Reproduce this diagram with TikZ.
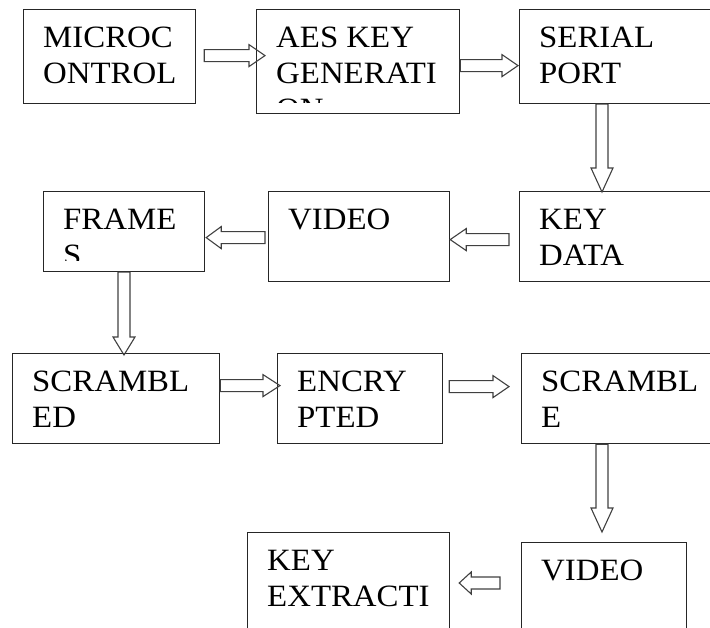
\documentclass[tikz,border=0pt]{standalone}
\usepackage{fontspec}
\setmainfont{Liberation Serif}[FakeStretch=1.06]
\usepackage{tikz}
\usetikzlibrary{calc, positioning}

\tikzset{
  stage/.style={draw=black!85, line width=1.2pt, anchor=north west, inner sep=0pt},
  stagetext/.style={anchor=north west, inner sep=0pt, align=left, text=black,
    font=\fontsize{31}{36}\selectfont},
  hollow/.style={draw=black!75, line width=1.1pt, line join=miter},
}

% hollow block arrow: [head length]{from}{to}
\newcommand{\blockarrow}[3][16pt]{%
  \coordinate (hb) at ($(#3)!#1!(#2)$);
  \draw[hollow] ($(#2)!6pt!90:(#3)$) -- ($(hb)!6pt!90:(#3)$) -- ($(hb)!11pt!90:(#3)$)
    -- (#3) -- ($(hb)!11pt!-90:(#3)$) -- ($(hb)!6pt!-90:(#3)$) -- ($(#2)!6pt!-90:(#3)$) -- cycle;}

% text inside a box, cut off near the bottom edge
\newcommand{\boxtext}[2]{%
  \begin{scope}
    \clip (#1.north west) rectangle ([shift={(0,-12)}]#1.south east);
    \node[stagetext] (#1-t) at ([shift={(20,18)}]#1.north west) {#2};
  \end{scope}}

\begin{document}
\begin{tikzpicture}[x=1pt, y=-1pt]
\useasboundingbox (0,0) rectangle (710,628);
\clip (0,0) rectangle (710,628);

% first row
\node[stage, minimum width=172pt, minimum height=94pt] (micro) at (23,9) {};
\node[stage, minimum width=203pt, minimum height=104pt] (aes) at (256,9) {};
\node[stage, minimum width=211pt, minimum height=94pt] (serial) at (519,9) {};

% second row
\node[stage, minimum width=211pt, minimum height=90pt] (keydata) at (519,191) {};
\node[stage, minimum width=181pt, minimum height=90pt] (video) at (268,191) {};
\node[stage, minimum width=161pt, minimum height=80pt] (frames) at (43,191) {};

% third row
\node[stage, minimum width=207pt, minimum height=90pt] (scrambled) at (12,353) {};
\node[stage, minimum width=165pt, minimum height=90pt] (encrypted) at (277,353) {};
\node[stage, minimum width=209pt, minimum height=90pt] (scramble) at (521,353) {};

% last row
\node[stage, minimum width=165pt, minimum height=118pt] (outvideo) at (521,542) {};
\node[stage, minimum width=202pt, minimum height=128pt] (keyext) at (247,532) {};

\boxtext{micro}{MICROC\\ONTROL}
\boxtext{aes}{AES KEY\\GENERATI\\ON}
\boxtext{serial}{SERIAL\\PORT}
\boxtext{keydata}{KEY\\DATA}
\boxtext{video}{VIDEO}
\boxtext{frames}{FRAME\\S}
\boxtext{scrambled}{SCRAMBL\\ED}
\boxtext{encrypted}{ENCRY\\PTED}
\boxtext{scramble}{SCRAMBL\\E}
\boxtext{outvideo}{VIDEO}
\boxtext{keyext}{KEY\\EXTRACTI}

% arrow ends
\coordinate (a1s) at ([shift={(8,-1)}]micro.east);
\coordinate (a1e) at ([shift={(9,-6)}]aes.west);
\coordinate (a2s) at ([shift={(0,4)}]aes.east);
\coordinate (a2e) at ([shift={(-1,9)}]serial.west);
\coordinate (a3s) at ([shift={(83,0)}]serial.south west);
\coordinate (a3e) at ([shift={(83,1)}]keydata.north west);
\coordinate (a4s) at ([shift={(-10,3)}]keydata.west);
\coordinate (a4e) at ([shift={(0,3)}]video.east);
\coordinate (a5s) at ([shift={(-3,1)}]video.west);
\coordinate (a5e) at ([shift={(1,6)}]frames.east);
\coordinate (a6s) at ([shift={(81,0)}]frames.south west);
\coordinate (a6e) at ([shift={(112,2)}]scrambled.north west);
\coordinate (a7s) at ([shift={(0,-13)}]scrambled.east);
\coordinate (a7e) at ([shift={(3,-13)}]encrypted.west);
\coordinate (a8s) at ([shift={(6,-12)}]encrypted.east);
\coordinate (a8e) at ([shift={(-12,-12)}]scramble.west);
\coordinate (a9s) at ([shift={(81,0)}]scramble.south west);
\coordinate (a9e) at ([shift={(81,-10)}]outvideo.north west);
\coordinate (a10s) at ([shift={(-21,41)}]outvideo.north west);
\coordinate (a10e) at ([shift={(9,51)}]keyext.north east);

\blockarrow{a1s}{a1e}
\blockarrow{a2s}{a2e}
\blockarrow[24pt]{a3s}{a3e}
\blockarrow{a4s}{a4e}
\blockarrow[15pt]{a5s}{a5e}
\blockarrow[18pt]{a6s}{a6e}
\blockarrow[17pt]{a7s}{a7e}
\blockarrow{a8s}{a8e}
\blockarrow[24pt]{a9s}{a9e}
\blockarrow[12pt]{a10s}{a10e}
\end{tikzpicture}
\end{document}
